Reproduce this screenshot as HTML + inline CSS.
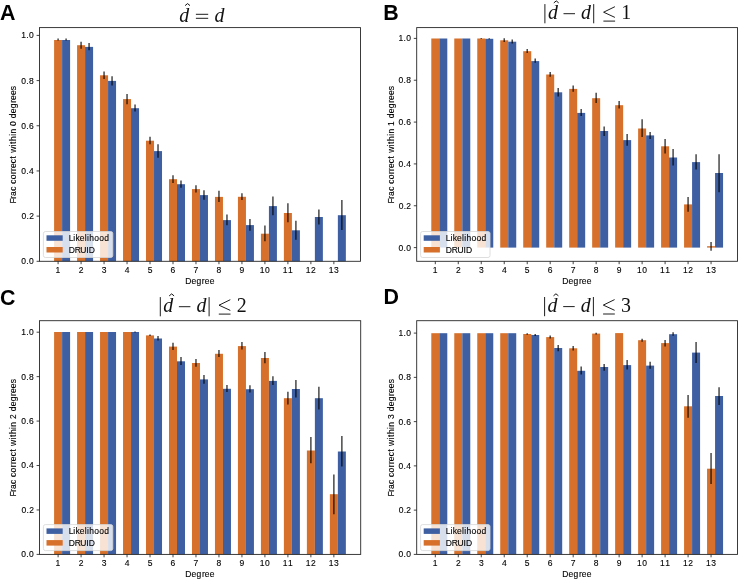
<!DOCTYPE html>
<html><head><meta charset="utf-8"><style>
html,body{margin:0;padding:0;background:#fff;}
svg{display:block;will-change:transform;}
text{font-family:"Liberation Sans",sans-serif;fill:#000;stroke:#000;stroke-width:0.12;}
.t{font-size:8.5px;}
.yt{font-size:8.4px;text-anchor:end;}
.xl{font-size:8.4px;}
.yl{font-size:8.4px;text-anchor:middle;}
.lt{font-size:8.4px;}
.pl{font-size:21.4px;font-weight:bold;fill:#000;stroke:none;}
.e{stroke:#000;stroke-opacity:0.72;stroke-width:1.5;}
.sp{fill:none;stroke:#262626;stroke-width:0.9;}
.tk{stroke:#222;stroke-width:0.85;}
.lg{fill:#fff;fill-opacity:0.8;stroke:#d6d6d6;stroke-width:0.8;}
.ti text{stroke:none;font-family:"Liberation Serif",serif;font-size:19.9px;fill:#111;}
.tl{stroke:#111;stroke-width:0.95;}
.hat{fill:none;stroke:#111;stroke-width:1.0;}
.le{fill:none;stroke:#111;stroke-width:0.95;}
.it{font-style:italic;}
</style></head><body>
<svg width="738" height="579" viewBox="0 0 738 579">
<rect width="738" height="579" fill="#fff"/>
<rect x="54.1" y="40" width="8" height="221.3" fill="#d6702a"/>
<rect x="62.1" y="40" width="8" height="221.3" fill="#3e60a2"/>
<rect x="77.08" y="45.2" width="8" height="216.1" fill="#d6702a"/>
<rect x="85.08" y="46.9" width="8" height="214.4" fill="#3e60a2"/>
<rect x="100.06" y="75.3" width="8" height="186" fill="#d6702a"/>
<rect x="108.06" y="80.9" width="8" height="180.4" fill="#3e60a2"/>
<rect x="123.04" y="99.1" width="8" height="162.2" fill="#d6702a"/>
<rect x="131.04" y="108.2" width="8" height="153.1" fill="#3e60a2"/>
<rect x="146.02" y="140.7" width="8" height="120.6" fill="#d6702a"/>
<rect x="154.02" y="151.1" width="8" height="110.2" fill="#3e60a2"/>
<rect x="169" y="179.2" width="8" height="82.1" fill="#d6702a"/>
<rect x="177" y="184.2" width="8" height="77.1" fill="#3e60a2"/>
<rect x="191.98" y="189.1" width="8" height="72.2" fill="#d6702a"/>
<rect x="199.98" y="195.1" width="8" height="66.2" fill="#3e60a2"/>
<rect x="214.96" y="196.9" width="8" height="64.4" fill="#d6702a"/>
<rect x="222.96" y="220.1" width="8" height="41.2" fill="#3e60a2"/>
<rect x="237.94" y="196.8" width="8" height="64.5" fill="#d6702a"/>
<rect x="245.94" y="225.1" width="8" height="36.2" fill="#3e60a2"/>
<rect x="260.92" y="233.7" width="8" height="27.6" fill="#d6702a"/>
<rect x="268.92" y="206.1" width="8" height="55.2" fill="#3e60a2"/>
<rect x="283.9" y="213" width="8" height="48.3" fill="#d6702a"/>
<rect x="291.9" y="230.3" width="8" height="31" fill="#3e60a2"/>
<rect x="314.88" y="217" width="8" height="44.3" fill="#3e60a2"/>
<rect x="337.86" y="215.2" width="8" height="46.1" fill="#3e60a2"/>
<line x1="58.1" x2="58.1" y1="38.6" y2="40.5" class="e"/>
<line x1="66.1" x2="66.1" y1="38.6" y2="40.5" class="e"/>
<line x1="81.08" x2="81.08" y1="41.7" y2="48.7" class="e"/>
<line x1="89.08" x2="89.08" y1="43.1" y2="50.2" class="e"/>
<line x1="104.06" x2="104.06" y1="71.5" y2="78.9" class="e"/>
<line x1="112.06" x2="112.06" y1="76.3" y2="85.6" class="e"/>
<line x1="127.04" x2="127.04" y1="93.9" y2="104.3" class="e"/>
<line x1="135.04" x2="135.04" y1="104.6" y2="111.5" class="e"/>
<line x1="150.02" x2="150.02" y1="136.8" y2="144.2" class="e"/>
<line x1="158.02" x2="158.02" y1="144.2" y2="157.7" class="e"/>
<line x1="173" x2="173" y1="175.3" y2="183" class="e"/>
<line x1="181" x2="181" y1="180.4" y2="187.7" class="e"/>
<line x1="195.98" x2="195.98" y1="185.3" y2="192.5" class="e"/>
<line x1="203.98" x2="203.98" y1="190.3" y2="199.8" class="e"/>
<line x1="218.96" x2="218.96" y1="190.8" y2="202" class="e"/>
<line x1="226.96" x2="226.96" y1="214.4" y2="225.3" class="e"/>
<line x1="241.94" x2="241.94" y1="193.3" y2="200.1" class="e"/>
<line x1="249.94" x2="249.94" y1="219.1" y2="230.8" class="e"/>
<line x1="264.92" x2="264.92" y1="225.6" y2="241.2" class="e"/>
<line x1="272.92" x2="272.92" y1="196.6" y2="215.3" class="e"/>
<line x1="287.9" x2="287.9" y1="203.2" y2="222.2" class="e"/>
<line x1="295.9" x2="295.9" y1="220.8" y2="239.8" class="e"/>
<line x1="318.88" x2="318.88" y1="209.4" y2="224.5" class="e"/>
<line x1="341.86" x2="341.86" y1="200" y2="230.1" class="e"/>
<rect x="39.5" y="27.6" width="321" height="233.7" class="sp"/>
<line x1="58.1" x2="58.1" y1="261.3" y2="264.2" class="tk"/>
<text x="55.62" y="273.1" class="t">1</text>
<line x1="81.08" x2="81.08" y1="261.3" y2="264.2" class="tk"/>
<text x="78.72" y="273.1" class="t">2</text>
<line x1="104.06" x2="104.06" y1="261.3" y2="264.2" class="tk"/>
<text x="101.72" y="273.1" class="t">3</text>
<line x1="127.04" x2="127.04" y1="261.3" y2="264.2" class="tk"/>
<text x="124.7" y="273.1" class="t">4</text>
<line x1="150.02" x2="150.02" y1="261.3" y2="264.2" class="tk"/>
<text x="147.66" y="273.1" class="t">5</text>
<line x1="173" x2="173" y1="261.3" y2="264.2" class="tk"/>
<text x="170.61" y="273.1" class="t">6</text>
<line x1="195.98" x2="195.98" y1="261.3" y2="264.2" class="tk"/>
<text x="193.61" y="273.1" class="t">7</text>
<line x1="218.96" x2="218.96" y1="261.3" y2="264.2" class="tk"/>
<text x="216.6" y="273.1" class="t">8</text>
<line x1="241.94" x2="241.94" y1="261.3" y2="264.2" class="tk"/>
<text x="239.58" y="273.1" class="t">9</text>
<line x1="264.92" x2="264.92" y1="261.3" y2="264.2" class="tk"/>
<text x="259.78 264.94" y="273.1" class="t">10</text>
<line x1="287.9" x2="287.9" y1="261.3" y2="264.2" class="tk"/>
<text x="282.86 287.98" y="273.1" class="t">11</text>
<line x1="310.88" x2="310.88" y1="261.3" y2="264.2" class="tk"/>
<text x="305.87 310.93" y="273.1" class="t">12</text>
<line x1="333.86" x2="333.86" y1="261.3" y2="264.2" class="tk"/>
<text x="328.77 333.95" y="273.1" class="t">13</text>
<line x1="36.6" x2="39.5" y1="261.3" y2="261.3" class="tk"/>
<text x="21.33 26.35 29.01" y="264.25" class="t">0.0</text>
<line x1="36.6" x2="39.5" y1="216.12" y2="216.12" class="tk"/>
<text x="21.6 26.62 29.17" y="219.07" class="t">0.2</text>
<line x1="36.6" x2="39.5" y1="170.94" y2="170.94" class="tk"/>
<text x="21.25 26.27 28.93" y="173.89" class="t">0.4</text>
<line x1="36.6" x2="39.5" y1="125.76" y2="125.76" class="tk"/>
<text x="21.3 26.32 28.98" y="128.71" class="t">0.6</text>
<line x1="36.6" x2="39.5" y1="80.58" y2="80.58" class="tk"/>
<text x="21.34 26.36 29.02" y="83.53" class="t">0.8</text>
<line x1="36.6" x2="39.5" y1="35.4" y2="35.4" class="tk"/>
<text x="21.28 26.35 29.01" y="38.35" class="t">1.0</text>
<text x="185.21 191.5 196.46 201.82 204.69 209.64" y="284.2" class="t">Degree</text>
<text transform="translate(16.4,144.35) rotate(-90)" x="-59.04 -54.3 -51.59 -46.46 -41.93 -39.47 -34.94 -29.72 -26.55 -23.69 -18.87 -14.06 -11.18 -8.5 -1.96 0.48 3.45 8.54 10.8 15.8 18.45 23.48 26.08 31.18 36.14 41.5 44.37 49.32 54.18" y="0" class="t">Frac correct within 0 degrees</text>
<rect x="43.4" y="231.5" width="69.4" height="26" rx="2" ry="2" class="lg"/>
<rect x="46.5" y="235.3" width="16.2" height="5.5" fill="#3e60a2"/>
<rect x="46.5" y="247" width="16.2" height="5.5" fill="#d6702a"/>
<text x="68.65 73.27 75.6 79.84 84.83 87.07 89.32 94.33 99.26 104.23" y="241" class="t">Likelihood</text>
<text x="68.65 74.66 80.28 86.3 88.71" y="252.6" class="t">DRUID</text>
<text x="0" y="19.9" class="pl">A</text>
<rect x="431.3" y="38.5" width="8" height="209.1" fill="#d6702a"/>
<rect x="439.3" y="38.5" width="8" height="209.1" fill="#3e60a2"/>
<rect x="454.28" y="38.5" width="8" height="209.1" fill="#d6702a"/>
<rect x="462.28" y="38.5" width="8" height="209.1" fill="#3e60a2"/>
<rect x="477.26" y="38.5" width="8" height="209.1" fill="#d6702a"/>
<rect x="485.26" y="38.8" width="8" height="208.8" fill="#3e60a2"/>
<rect x="500.24" y="40.3" width="8" height="207.3" fill="#d6702a"/>
<rect x="508.24" y="41.7" width="8" height="205.9" fill="#3e60a2"/>
<rect x="523.22" y="51.2" width="8" height="196.4" fill="#d6702a"/>
<rect x="531.22" y="61.1" width="8" height="186.5" fill="#3e60a2"/>
<rect x="546.2" y="74.5" width="8" height="173.1" fill="#d6702a"/>
<rect x="554.2" y="92.3" width="8" height="155.3" fill="#3e60a2"/>
<rect x="569.18" y="88.9" width="8" height="158.7" fill="#d6702a"/>
<rect x="577.18" y="112.9" width="8" height="134.7" fill="#3e60a2"/>
<rect x="592.16" y="98.2" width="8" height="149.4" fill="#d6702a"/>
<rect x="600.16" y="131" width="8" height="116.6" fill="#3e60a2"/>
<rect x="615.14" y="105.2" width="8" height="142.4" fill="#d6702a"/>
<rect x="623.14" y="140.1" width="8" height="107.5" fill="#3e60a2"/>
<rect x="638.12" y="128.5" width="8" height="119.1" fill="#d6702a"/>
<rect x="646.12" y="135.4" width="8" height="112.2" fill="#3e60a2"/>
<rect x="661.1" y="146.3" width="8" height="101.3" fill="#d6702a"/>
<rect x="669.1" y="157.5" width="8" height="90.1" fill="#3e60a2"/>
<rect x="684.08" y="204.4" width="8" height="43.2" fill="#d6702a"/>
<rect x="692.08" y="162.1" width="8" height="85.5" fill="#3e60a2"/>
<rect x="707.06" y="246.2" width="8" height="1.4" fill="#d6702a"/>
<rect x="715.06" y="173" width="8" height="74.6" fill="#3e60a2"/>
<line x1="481.26" x2="481.26" y1="38.1" y2="38.9" class="e"/>
<line x1="489.26" x2="489.26" y1="38.3" y2="39.3" class="e"/>
<line x1="504.24" x2="504.24" y1="38.3" y2="41.9" class="e"/>
<line x1="512.24" x2="512.24" y1="39.5" y2="43.6" class="e"/>
<line x1="527.22" x2="527.22" y1="49" y2="53" class="e"/>
<line x1="535.22" x2="535.22" y1="58.5" y2="62.8" class="e"/>
<line x1="550.2" x2="550.2" y1="72" y2="76.8" class="e"/>
<line x1="558.2" x2="558.2" y1="88" y2="96.6" class="e"/>
<line x1="573.18" x2="573.18" y1="85.4" y2="91.8" class="e"/>
<line x1="581.18" x2="581.18" y1="109.1" y2="116" class="e"/>
<line x1="596.16" x2="596.16" y1="92.7" y2="103" class="e"/>
<line x1="604.16" x2="604.16" y1="126.4" y2="135.9" class="e"/>
<line x1="619.14" x2="619.14" y1="100.9" y2="108.6" class="e"/>
<line x1="627.14" x2="627.14" y1="134" y2="145.8" class="e"/>
<line x1="642.12" x2="642.12" y1="119.3" y2="137.1" class="e"/>
<line x1="650.12" x2="650.12" y1="132" y2="138.9" class="e"/>
<line x1="665.1" x2="665.1" y1="138.9" y2="153.5" class="e"/>
<line x1="673.1" x2="673.1" y1="148.9" y2="165.6" class="e"/>
<line x1="688.08" x2="688.08" y1="197" y2="211.8" class="e"/>
<line x1="696.08" x2="696.08" y1="154.3" y2="169.5" class="e"/>
<line x1="711.06" x2="711.06" y1="242.1" y2="250.7" class="e"/>
<line x1="719.06" x2="719.06" y1="154.3" y2="192.3" class="e"/>
<rect x="416.7" y="27.6" width="320.8" height="233.7" class="sp"/>
<line x1="435.3" x2="435.3" y1="261.3" y2="264.2" class="tk"/>
<text x="432.82" y="273.1" class="t">1</text>
<line x1="458.28" x2="458.28" y1="261.3" y2="264.2" class="tk"/>
<text x="455.92" y="273.1" class="t">2</text>
<line x1="481.26" x2="481.26" y1="261.3" y2="264.2" class="tk"/>
<text x="478.92" y="273.1" class="t">3</text>
<line x1="504.24" x2="504.24" y1="261.3" y2="264.2" class="tk"/>
<text x="501.9" y="273.1" class="t">4</text>
<line x1="527.22" x2="527.22" y1="261.3" y2="264.2" class="tk"/>
<text x="524.86" y="273.1" class="t">5</text>
<line x1="550.2" x2="550.2" y1="261.3" y2="264.2" class="tk"/>
<text x="547.81" y="273.1" class="t">6</text>
<line x1="573.18" x2="573.18" y1="261.3" y2="264.2" class="tk"/>
<text x="570.81" y="273.1" class="t">7</text>
<line x1="596.16" x2="596.16" y1="261.3" y2="264.2" class="tk"/>
<text x="593.8" y="273.1" class="t">8</text>
<line x1="619.14" x2="619.14" y1="261.3" y2="264.2" class="tk"/>
<text x="616.78" y="273.1" class="t">9</text>
<line x1="642.12" x2="642.12" y1="261.3" y2="264.2" class="tk"/>
<text x="636.98 642.14" y="273.1" class="t">10</text>
<line x1="665.1" x2="665.1" y1="261.3" y2="264.2" class="tk"/>
<text x="660.06 665.18" y="273.1" class="t">11</text>
<line x1="688.08" x2="688.08" y1="261.3" y2="264.2" class="tk"/>
<text x="683.07 688.13" y="273.1" class="t">12</text>
<line x1="711.06" x2="711.06" y1="261.3" y2="264.2" class="tk"/>
<text x="705.97 711.15" y="273.1" class="t">13</text>
<line x1="413.8" x2="416.7" y1="247.6" y2="247.6" class="tk"/>
<text x="398.53 403.55 406.21" y="250.55" class="t">0.0</text>
<line x1="413.8" x2="416.7" y1="205.76" y2="205.76" class="tk"/>
<text x="398.8 403.82 406.37" y="208.71" class="t">0.2</text>
<line x1="413.8" x2="416.7" y1="163.92" y2="163.92" class="tk"/>
<text x="398.45 403.47 406.13" y="166.87" class="t">0.4</text>
<line x1="413.8" x2="416.7" y1="122.08" y2="122.08" class="tk"/>
<text x="398.5 403.52 406.18" y="125.03" class="t">0.6</text>
<line x1="413.8" x2="416.7" y1="80.24" y2="80.24" class="tk"/>
<text x="398.54 403.56 406.22" y="83.19" class="t">0.8</text>
<line x1="413.8" x2="416.7" y1="38.4" y2="38.4" class="tk"/>
<text x="398.48 403.55 406.21" y="41.35" class="t">1.0</text>
<text x="562.31 568.6 573.56 578.92 581.79 586.74" y="284.2" class="t">Degree</text>
<text transform="translate(393.6,144.35) rotate(-90)" x="-59.04 -54.3 -51.59 -46.46 -41.93 -39.47 -34.94 -29.72 -26.55 -23.69 -18.87 -14.06 -11.18 -8.5 -1.96 0.48 3.45 8.54 10.8 15.8 18.41 23.48 26.08 31.18 36.14 41.5 44.37 49.32 54.18" y="0" class="t">Frac correct within 1 degrees</text>
<rect x="420.6" y="231.5" width="69.4" height="26" rx="2" ry="2" class="lg"/>
<rect x="423.7" y="235.3" width="16.2" height="5.5" fill="#3e60a2"/>
<rect x="423.7" y="247" width="16.2" height="5.5" fill="#d6702a"/>
<text x="445.85 450.47 452.8 457.04 462.03 464.27 466.52 471.53 476.46 481.43" y="241" class="t">Likelihood</text>
<text x="445.85 451.86 457.48 463.5 465.91" y="252.6" class="t">DRUID</text>
<text x="383.3" y="19.8" class="pl">B</text>
<rect x="54.1" y="332" width="8" height="222.4" fill="#d6702a"/>
<rect x="62.1" y="332" width="8" height="222.4" fill="#3e60a2"/>
<rect x="77.08" y="332" width="8" height="222.4" fill="#d6702a"/>
<rect x="85.08" y="332" width="8" height="222.4" fill="#3e60a2"/>
<rect x="100.06" y="332" width="8" height="222.4" fill="#d6702a"/>
<rect x="108.06" y="332" width="8" height="222.4" fill="#3e60a2"/>
<rect x="123.04" y="332" width="8" height="222.4" fill="#d6702a"/>
<rect x="131.04" y="332" width="8" height="222.4" fill="#3e60a2"/>
<rect x="146.02" y="335.4" width="8" height="219" fill="#d6702a"/>
<rect x="154.02" y="338.5" width="8" height="215.9" fill="#3e60a2"/>
<rect x="169" y="346.6" width="8" height="207.8" fill="#d6702a"/>
<rect x="177" y="361.3" width="8" height="193.1" fill="#3e60a2"/>
<rect x="191.98" y="363" width="8" height="191.4" fill="#d6702a"/>
<rect x="199.98" y="379.4" width="8" height="175" fill="#3e60a2"/>
<rect x="214.96" y="353.8" width="8" height="200.6" fill="#d6702a"/>
<rect x="222.96" y="388.8" width="8" height="165.6" fill="#3e60a2"/>
<rect x="237.94" y="346.1" width="8" height="208.3" fill="#d6702a"/>
<rect x="245.94" y="389.2" width="8" height="165.2" fill="#3e60a2"/>
<rect x="260.92" y="358" width="8" height="196.4" fill="#d6702a"/>
<rect x="268.92" y="380.9" width="8" height="173.5" fill="#3e60a2"/>
<rect x="283.9" y="398.2" width="8" height="156.2" fill="#d6702a"/>
<rect x="291.9" y="389" width="8" height="165.4" fill="#3e60a2"/>
<rect x="306.88" y="450.5" width="8" height="103.9" fill="#d6702a"/>
<rect x="314.88" y="398.2" width="8" height="156.2" fill="#3e60a2"/>
<rect x="329.86" y="494.2" width="8" height="60.2" fill="#d6702a"/>
<rect x="337.86" y="451.5" width="8" height="102.9" fill="#3e60a2"/>
<line x1="135.04" x2="135.04" y1="331.6" y2="332.4" class="e"/>
<line x1="150.02" x2="150.02" y1="334.6" y2="336" class="e"/>
<line x1="158.02" x2="158.02" y1="335.9" y2="340.5" class="e"/>
<line x1="173" x2="173" y1="342.8" y2="350" class="e"/>
<line x1="181" x2="181" y1="357" y2="365.1" class="e"/>
<line x1="195.98" x2="195.98" y1="359" y2="366.8" class="e"/>
<line x1="203.98" x2="203.98" y1="375.1" y2="383.7" class="e"/>
<line x1="218.96" x2="218.96" y1="350" y2="357" class="e"/>
<line x1="226.96" x2="226.96" y1="385.1" y2="392" class="e"/>
<line x1="241.94" x2="241.94" y1="342.1" y2="349.5" class="e"/>
<line x1="249.94" x2="249.94" y1="385.3" y2="392.5" class="e"/>
<line x1="264.92" x2="264.92" y1="352.1" y2="363.2" class="e"/>
<line x1="272.92" x2="272.92" y1="376.3" y2="384.9" class="e"/>
<line x1="287.9" x2="287.9" y1="391.8" y2="404.6" class="e"/>
<line x1="295.9" x2="295.9" y1="380.1" y2="397.4" class="e"/>
<line x1="310.88" x2="310.88" y1="437" y2="463.3" class="e"/>
<line x1="318.88" x2="318.88" y1="386.7" y2="409.4" class="e"/>
<line x1="333.86" x2="333.86" y1="474.4" y2="514.2" class="e"/>
<line x1="341.86" x2="341.86" y1="436" y2="466.6" class="e"/>
<rect x="39.5" y="320.7" width="321.2" height="233.7" class="sp"/>
<line x1="58.1" x2="58.1" y1="554.4" y2="557.3" class="tk"/>
<text x="55.62" y="566.2" class="t">1</text>
<line x1="81.08" x2="81.08" y1="554.4" y2="557.3" class="tk"/>
<text x="78.72" y="566.2" class="t">2</text>
<line x1="104.06" x2="104.06" y1="554.4" y2="557.3" class="tk"/>
<text x="101.72" y="566.2" class="t">3</text>
<line x1="127.04" x2="127.04" y1="554.4" y2="557.3" class="tk"/>
<text x="124.7" y="566.2" class="t">4</text>
<line x1="150.02" x2="150.02" y1="554.4" y2="557.3" class="tk"/>
<text x="147.66" y="566.2" class="t">5</text>
<line x1="173" x2="173" y1="554.4" y2="557.3" class="tk"/>
<text x="170.61" y="566.2" class="t">6</text>
<line x1="195.98" x2="195.98" y1="554.4" y2="557.3" class="tk"/>
<text x="193.61" y="566.2" class="t">7</text>
<line x1="218.96" x2="218.96" y1="554.4" y2="557.3" class="tk"/>
<text x="216.6" y="566.2" class="t">8</text>
<line x1="241.94" x2="241.94" y1="554.4" y2="557.3" class="tk"/>
<text x="239.58" y="566.2" class="t">9</text>
<line x1="264.92" x2="264.92" y1="554.4" y2="557.3" class="tk"/>
<text x="259.78 264.94" y="566.2" class="t">10</text>
<line x1="287.9" x2="287.9" y1="554.4" y2="557.3" class="tk"/>
<text x="282.86 287.98" y="566.2" class="t">11</text>
<line x1="310.88" x2="310.88" y1="554.4" y2="557.3" class="tk"/>
<text x="305.87 310.93" y="566.2" class="t">12</text>
<line x1="333.86" x2="333.86" y1="554.4" y2="557.3" class="tk"/>
<text x="328.77 333.95" y="566.2" class="t">13</text>
<line x1="36.6" x2="39.5" y1="554.4" y2="554.4" class="tk"/>
<text x="21.33 26.35 29.01" y="557.35" class="t">0.0</text>
<line x1="36.6" x2="39.5" y1="509.96" y2="509.96" class="tk"/>
<text x="21.6 26.62 29.17" y="512.91" class="t">0.2</text>
<line x1="36.6" x2="39.5" y1="465.52" y2="465.52" class="tk"/>
<text x="21.25 26.27 28.93" y="468.47" class="t">0.4</text>
<line x1="36.6" x2="39.5" y1="421.08" y2="421.08" class="tk"/>
<text x="21.3 26.32 28.98" y="424.03" class="t">0.6</text>
<line x1="36.6" x2="39.5" y1="376.64" y2="376.64" class="tk"/>
<text x="21.34 26.36 29.02" y="379.59" class="t">0.8</text>
<line x1="36.6" x2="39.5" y1="332.2" y2="332.2" class="tk"/>
<text x="21.28 26.35 29.01" y="335.15" class="t">1.0</text>
<text x="185.31 191.6 196.56 201.92 204.79 209.74" y="577.3" class="t">Degree</text>
<text transform="translate(16.4,437.45) rotate(-90)" x="-59.04 -54.3 -51.59 -46.46 -41.93 -39.47 -34.94 -29.72 -26.55 -23.69 -18.87 -14.06 -11.18 -8.5 -1.96 0.48 3.45 8.54 10.8 15.8 18.35 23.48 26.08 31.18 36.14 41.5 44.37 49.32 54.18" y="0" class="t">Frac correct within 2 degrees</text>
<rect x="43.4" y="524.6" width="69.4" height="26" rx="2" ry="2" class="lg"/>
<rect x="46.5" y="528.4" width="16.2" height="5.5" fill="#3e60a2"/>
<rect x="46.5" y="540.1" width="16.2" height="5.5" fill="#d6702a"/>
<text x="68.65 73.27 75.6 79.84 84.83 87.07 89.32 94.33 99.26 104.23" y="534.1" class="t">Likelihood</text>
<text x="68.65 74.66 80.28 86.3 88.71" y="545.7" class="t">DRUID</text>
<text x="0.1" y="304.5" class="pl">C</text>
<rect x="431.3" y="333.2" width="8" height="221.2" fill="#d6702a"/>
<rect x="439.3" y="333.2" width="8" height="221.2" fill="#3e60a2"/>
<rect x="454.28" y="333.2" width="8" height="221.2" fill="#d6702a"/>
<rect x="462.28" y="333.2" width="8" height="221.2" fill="#3e60a2"/>
<rect x="477.26" y="333.2" width="8" height="221.2" fill="#d6702a"/>
<rect x="485.26" y="333.2" width="8" height="221.2" fill="#3e60a2"/>
<rect x="500.24" y="333.2" width="8" height="221.2" fill="#d6702a"/>
<rect x="508.24" y="333.2" width="8" height="221.2" fill="#3e60a2"/>
<rect x="523.22" y="334" width="8" height="220.4" fill="#d6702a"/>
<rect x="531.22" y="335" width="8" height="219.4" fill="#3e60a2"/>
<rect x="546.2" y="337.1" width="8" height="217.3" fill="#d6702a"/>
<rect x="554.2" y="348" width="8" height="206.4" fill="#3e60a2"/>
<rect x="569.18" y="348.3" width="8" height="206.1" fill="#d6702a"/>
<rect x="577.18" y="370.8" width="8" height="183.6" fill="#3e60a2"/>
<rect x="592.16" y="333.6" width="8" height="220.8" fill="#d6702a"/>
<rect x="600.16" y="367" width="8" height="187.4" fill="#3e60a2"/>
<rect x="615.14" y="333.1" width="8" height="221.3" fill="#d6702a"/>
<rect x="623.14" y="365.1" width="8" height="189.3" fill="#3e60a2"/>
<rect x="638.12" y="340.2" width="8" height="214.2" fill="#d6702a"/>
<rect x="646.12" y="365.6" width="8" height="188.8" fill="#3e60a2"/>
<rect x="661.1" y="343.1" width="8" height="211.3" fill="#d6702a"/>
<rect x="669.1" y="334.2" width="8" height="220.2" fill="#3e60a2"/>
<rect x="684.08" y="406.3" width="8" height="148.1" fill="#d6702a"/>
<rect x="692.08" y="352.6" width="8" height="201.8" fill="#3e60a2"/>
<rect x="707.06" y="468.7" width="8" height="85.7" fill="#d6702a"/>
<rect x="715.06" y="396" width="8" height="158.4" fill="#3e60a2"/>
<line x1="527.22" x2="527.22" y1="333.2" y2="334.8" class="e"/>
<line x1="535.22" x2="535.22" y1="333.9" y2="336" class="e"/>
<line x1="550.2" x2="550.2" y1="335.4" y2="338.5" class="e"/>
<line x1="558.2" x2="558.2" y1="344.9" y2="351.3" class="e"/>
<line x1="573.18" x2="573.18" y1="346.1" y2="350.6" class="e"/>
<line x1="581.18" x2="581.18" y1="366.5" y2="374.6" class="e"/>
<line x1="596.16" x2="596.16" y1="332.8" y2="334.5" class="e"/>
<line x1="604.16" x2="604.16" y1="363.9" y2="370.8" class="e"/>
<line x1="627.14" x2="627.14" y1="360.1" y2="369.4" class="e"/>
<line x1="642.12" x2="642.12" y1="338.8" y2="341.8" class="e"/>
<line x1="650.12" x2="650.12" y1="361.8" y2="368.7" class="e"/>
<line x1="665.1" x2="665.1" y1="340" y2="346.6" class="e"/>
<line x1="673.1" x2="673.1" y1="332.3" y2="335.7" class="e"/>
<line x1="688.08" x2="688.08" y1="394.9" y2="417.7" class="e"/>
<line x1="696.08" x2="696.08" y1="341.9" y2="363" class="e"/>
<line x1="711.06" x2="711.06" y1="453" y2="484" class="e"/>
<line x1="719.06" x2="719.06" y1="387.3" y2="404.9" class="e"/>
<rect x="416.7" y="320.7" width="320.8" height="233.7" class="sp"/>
<line x1="435.3" x2="435.3" y1="554.4" y2="557.3" class="tk"/>
<text x="432.82" y="566.2" class="t">1</text>
<line x1="458.28" x2="458.28" y1="554.4" y2="557.3" class="tk"/>
<text x="455.92" y="566.2" class="t">2</text>
<line x1="481.26" x2="481.26" y1="554.4" y2="557.3" class="tk"/>
<text x="478.92" y="566.2" class="t">3</text>
<line x1="504.24" x2="504.24" y1="554.4" y2="557.3" class="tk"/>
<text x="501.9" y="566.2" class="t">4</text>
<line x1="527.22" x2="527.22" y1="554.4" y2="557.3" class="tk"/>
<text x="524.86" y="566.2" class="t">5</text>
<line x1="550.2" x2="550.2" y1="554.4" y2="557.3" class="tk"/>
<text x="547.81" y="566.2" class="t">6</text>
<line x1="573.18" x2="573.18" y1="554.4" y2="557.3" class="tk"/>
<text x="570.81" y="566.2" class="t">7</text>
<line x1="596.16" x2="596.16" y1="554.4" y2="557.3" class="tk"/>
<text x="593.8" y="566.2" class="t">8</text>
<line x1="619.14" x2="619.14" y1="554.4" y2="557.3" class="tk"/>
<text x="616.78" y="566.2" class="t">9</text>
<line x1="642.12" x2="642.12" y1="554.4" y2="557.3" class="tk"/>
<text x="636.98 642.14" y="566.2" class="t">10</text>
<line x1="665.1" x2="665.1" y1="554.4" y2="557.3" class="tk"/>
<text x="660.06 665.18" y="566.2" class="t">11</text>
<line x1="688.08" x2="688.08" y1="554.4" y2="557.3" class="tk"/>
<text x="683.07 688.13" y="566.2" class="t">12</text>
<line x1="711.06" x2="711.06" y1="554.4" y2="557.3" class="tk"/>
<text x="705.97 711.15" y="566.2" class="t">13</text>
<line x1="413.8" x2="416.7" y1="554.4" y2="554.4" class="tk"/>
<text x="398.53 403.55 406.21" y="557.35" class="t">0.0</text>
<line x1="413.8" x2="416.7" y1="510.14" y2="510.14" class="tk"/>
<text x="398.8 403.82 406.37" y="513.09" class="t">0.2</text>
<line x1="413.8" x2="416.7" y1="465.88" y2="465.88" class="tk"/>
<text x="398.45 403.47 406.13" y="468.83" class="t">0.4</text>
<line x1="413.8" x2="416.7" y1="421.62" y2="421.62" class="tk"/>
<text x="398.5 403.52 406.18" y="424.57" class="t">0.6</text>
<line x1="413.8" x2="416.7" y1="377.36" y2="377.36" class="tk"/>
<text x="398.54 403.56 406.22" y="380.31" class="t">0.8</text>
<line x1="413.8" x2="416.7" y1="333.1" y2="333.1" class="tk"/>
<text x="398.48 403.55 406.21" y="336.05" class="t">1.0</text>
<text x="562.31 568.6 573.56 578.92 581.79 586.74" y="577.3" class="t">Degree</text>
<text transform="translate(393.6,437.45) rotate(-90)" x="-59.04 -54.3 -51.59 -46.46 -41.93 -39.47 -34.94 -29.72 -26.55 -23.69 -18.87 -14.06 -11.18 -8.5 -1.96 0.48 3.45 8.54 10.8 15.8 18.46 23.48 26.08 31.18 36.14 41.5 44.37 49.32 54.18" y="0" class="t">Frac correct within 3 degrees</text>
<rect x="420.6" y="524.6" width="69.4" height="26" rx="2" ry="2" class="lg"/>
<rect x="423.7" y="528.4" width="16.2" height="5.5" fill="#3e60a2"/>
<rect x="423.7" y="540.1" width="16.2" height="5.5" fill="#d6702a"/>
<text x="445.85 450.47 452.8 457.04 462.03 464.27 466.52 471.53 476.46 481.43" y="534.1" class="t">Likelihood</text>
<text x="445.85 451.86 457.48 463.5 465.91" y="545.7" class="t">DRUID</text>
<text x="383.5" y="304" class="pl">D</text>
<g class="ti"><text x="179.22" y="21.5" class="it">d</text>
<path d="M185.1 5.6 L187.55 3.6 L190 5.6" class="hat"/>
<line x1="195.9" x2="208.2" y1="14.3" y2="14.3" class="tl"/>
<line x1="195.9" x2="208.2" y1="18.3" y2="18.3" class="tl"/>
<text x="214.62" y="21.5" class="it">d</text><line x1="544.9" x2="544.9" y1="4.1" y2="23.3" class="tl"/>
<text x="547.92" y="18.8" class="it">d</text>
<path d="M553.8 2.9 L556.25 0.9 L558.7 2.9" class="hat"/>
<line x1="563.5" x2="575" y1="13.7" y2="13.7" class="tl"/>
<text x="581.02" y="18.8" class="it">d</text>
<line x1="593.7" x2="593.7" y1="4.1" y2="23.3" class="tl"/>
<path d="M614.9 6.7 L603.6 12.2 L614.9 17.4" class="le"/>
<line x1="603.4" x2="615.1" y1="21.1" y2="21.1" class="tl"/>
<text x="626.3" y="18.8" class="rm" text-anchor="middle">1</text><line x1="160.3" x2="160.3" y1="297.1" y2="316.3" class="tl"/>
<text x="163.32" y="311.8" class="it">d</text>
<path d="M169.2 295.9 L171.65 293.9 L174.1 295.9" class="hat"/>
<line x1="178.9" x2="190.4" y1="306.7" y2="306.7" class="tl"/>
<text x="196.42" y="311.8" class="it">d</text>
<line x1="209.1" x2="209.1" y1="297.1" y2="316.3" class="tl"/>
<path d="M230.3 299.7 L219 305.2 L230.3 310.4" class="le"/>
<line x1="218.8" x2="230.5" y1="314.1" y2="314.1" class="tl"/>
<text x="241.7" y="311.8" class="rm" text-anchor="middle">2</text><line x1="544.6" x2="544.6" y1="297" y2="316.2" class="tl"/>
<text x="547.62" y="311.7" class="it">d</text>
<path d="M553.5 295.8 L555.95 293.8 L558.4 295.8" class="hat"/>
<line x1="563.2" x2="574.7" y1="306.6" y2="306.6" class="tl"/>
<text x="580.72" y="311.7" class="it">d</text>
<line x1="593.4" x2="593.4" y1="297" y2="316.2" class="tl"/>
<path d="M614.6 299.6 L603.3 305.1 L614.6 310.3" class="le"/>
<line x1="603.1" x2="614.8" y1="314" y2="314" class="tl"/>
<text x="626" y="311.7" class="rm" text-anchor="middle">3</text></g>
</svg>
</body></html>
